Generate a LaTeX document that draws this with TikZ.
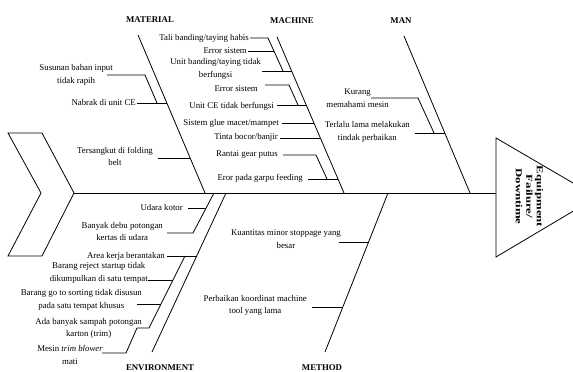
\documentclass[tikz,border=0pt]{standalone}
\usepackage{fontspec}
\setmainfont{Liberation Serif}
\tikzset{
    bone/.style={line width=0.8pt, black},
    cause/.style={font=\fontsize{8.8}{12.5}\selectfont, align=center, inner sep=1pt, anchor=east,
        execute at begin node=\strut, execute at end node=\strut},
    category/.style={font=\fontsize{8.8}{10.5}\selectfont\bfseries, inner sep=0pt}
}
\begin{document}
\begin{tikzpicture}[x=1pt,y=-1pt]
    \useasboundingbox (0,0) rectangle (573,372);
    \clip (0,0) rectangle (573,372);
    \coordinate (tail) at (74,193);
    \coordinate (head) at (496,193);
    \draw[bone] (8,133)--(42,133)--(tail)--(42,256)--(8,256)--(41,193)--cycle;
    \draw[bone] (496,138)--(597,197)--(496,257)--cycle;
    \node[font=\fontsize{9}{10.5}\selectfont\bfseries, align=center, rotate=-90, xscale=1.42] (effect) at (529.5,196.5) {Equipment\\Failure/\\Downtime};
    \draw[bone] (tail)--(head);

    \node[category] (material) at (150,20) {MATERIAL};
    \node[category] (machine) at (292,21) {MACHINE};
    \node[category] (man) at (401,21) {MAN};
    \node[category] (environment) at (160,368) {ENVIRONMENT};
    \node[category] (method) at (322,368) {METHOD};
    \draw[bone] (138,35)--(205,193);
    \draw[bone] (277,37)--(344,193);
    \draw[bone] (404,36)--(470,193);
    \draw[bone] (226,193)--(152,352);
    \draw[bone] (388,193)--(325,352);

    \node[cause] (susunan) at (114,76) {Susunan bahan input\\tidak rapih};
    \draw[bone] (susunan.east) ++(-7,-1) -- ++(38,0) -- ++(12,28);
    \node[cause] (nabrak) at (137,103) {Nabrak di unit CE};
    \draw[bone] (nabrak.east) -- ++(30,0);
    \node[cause] (tersangkut) at (154,158.5) {Tersangkut di folding\\belt};
    \draw[bone] (tersangkut.east) ++(4,-0.5) -- ++(32,0);

    \node[cause] (tali) at (250,38) {Tali banding/taying habis};
    \draw[bone] (tali.east) -- ++(18,0) -- ++(15,33);
    \node[cause] (error1) at (248,51) {Error sistem};
    \draw[bone] (error1.east) -- ++(26,0);
    \node[cause] (unitbanding) at (262,70) {Unit banding/taying tidak\\berfungsi};
    \draw[bone] (unitbanding.east) ++(0,1) -- ++(30,0);
    \node[cause] (error2) at (259,89) {Error sistem};
    \draw[bone] (error2.east) ++(6,-4) -- ++(24,0) -- ++(9,20);
    \node[cause] (unitce) at (275,106) {Unit CE tidak berfungsi};
    \draw[bone] (unitce.east) ++(2,-1) -- ++(29,0);
    \node[cause] (glue) at (280,123) {Sistem glue macet/mampet};
    \draw[bone] (glue.east) ++(2,0) -- ++(32,0);
    \node[cause] (tinta) at (279,137) {Tinta bocor/banjir};
    \draw[bone] (tinta.east) ++(1,1) -- ++(40,0);
    \node[cause] (rantai) at (279,154) {Rantai gear putus};
    \draw[bone] (rantai.east) ++(4,1) -- ++(33,0) -- ++(11,24);
    \node[cause] (garpu) at (304,178) {Eror pada garpu feeding};
    \draw[bone] (garpu.east) ++(4,1) -- ++(30,0);

    \node[cause] (kurang) at (390,100) {Kurang\\memahami mesin};
    \draw[bone] (kurang.east) ++(-19,-2) -- ++(47,0) -- ++(16,35);
    \node[cause] (terlalu) at (411,133) {Terlalu lama melakukan\\tindak perbaikan};
    \draw[bone] (terlalu.east) ++(4,0) -- ++(30,0);

    \node[cause] (udara) at (184,208) {Udara kotor};
    \draw[bone] (udara.east) ++(4,0) -- ++(18,0);
    \node[cause] (debu) at (164,233.5) {Banyak debu potongan\\kertas di udara};
    \draw[bone] (debu.east) ++(3,-0.5) -- ++(26,0) -- ++(21,-40);
    \node[cause] (area) at (166,256) {Area kerja berantakan};
    \draw[bone] (area.east) ++(1,0) -- ++(30,0);
    \node[cause] (reject) at (149,274) {Barang reject startup tidak\\dikumpulkan di satu tempat};
    \draw[bone] (reject.east) ++(-1,6) -- ++(25,0);
    \node[cause] (sorting) at (143,301) {Barang go to sorting tidak disusun\\pada satu tempat khusus};
    \draw[bone] (sorting.east) ++(-6,3) -- ++(24,0);
    \node[cause] (sampah) at (143,329.5) {Ada banyak sampah potongan\\karton (trim)};
    \draw[bone] (sampah.east) ++(-6,-1.5) -- ++(12,0) -- ++(36,-72);
    \node[cause] (blower) at (104,357) {Mesin \textit{trim blower}\\mati};
    \draw[bone] (blower.east) ++(-2,-4) -- ++(24,0) -- ++(11,-25);

    \node[cause] (kuantitas) at (342,241) {Kuantitas minor stoppage yang\\besar};
    \draw[bone] (kuantitas.east) ++(-3,1) -- ++(30,0);
    \node[cause] (perbaikan) at (308,306.5) {Perbaikan koordinat machine\\tool yang lama};
    \draw[bone] (perbaikan.east) ++(4,0.5) -- ++(31,0);
\end{tikzpicture}
\end{document}
